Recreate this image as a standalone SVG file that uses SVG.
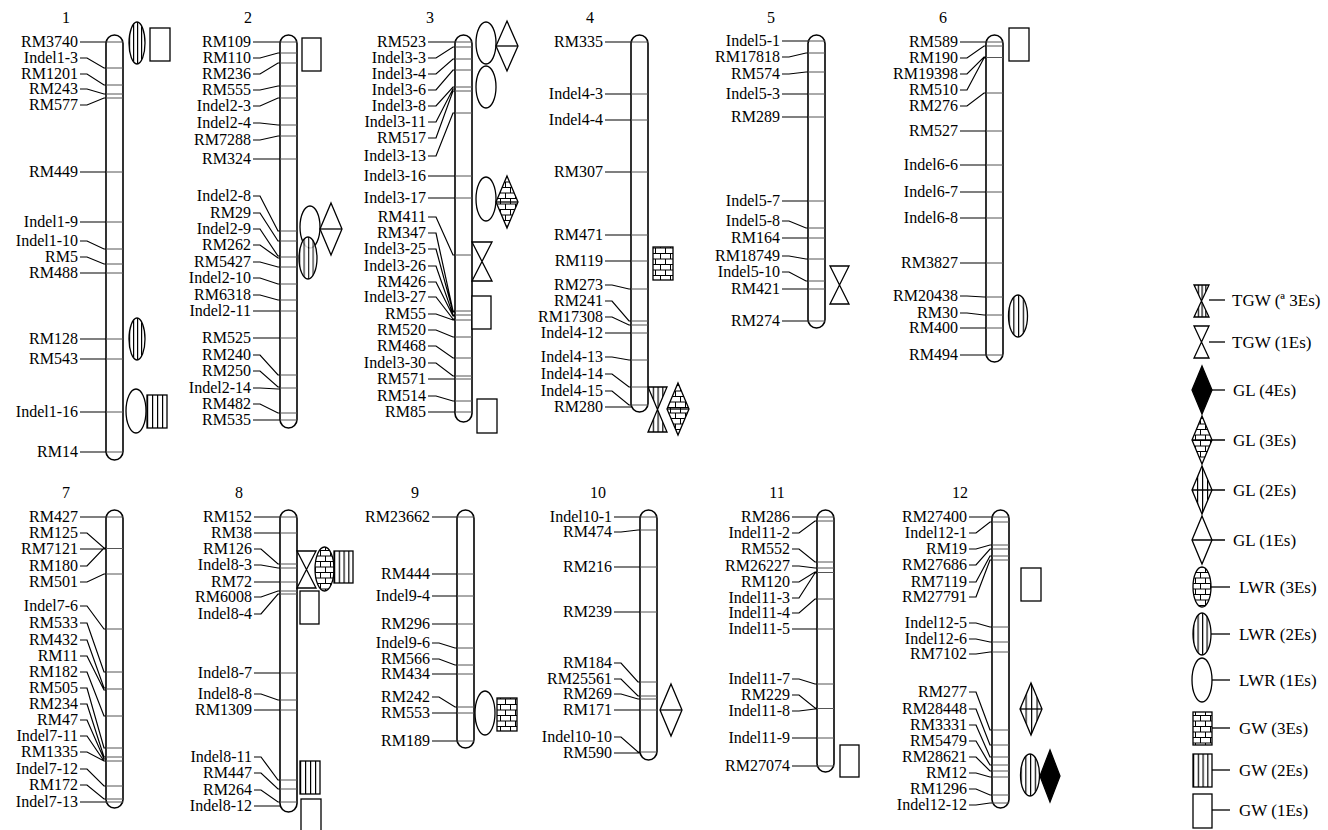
<svg xmlns="http://www.w3.org/2000/svg" width="1328" height="830" viewBox="0 0 1328 830">
<style>
.bg{fill:#fff}
.chrom{fill:#fff;stroke:#000;stroke-width:1.6}
.band{stroke:#555;stroke-width:1;fill:none}
.con{stroke:#000;stroke-width:1.2;fill:none}
.lbl text{font-family:"Liberation Serif",serif;font-size:16px;text-anchor:end;fill:#000}
.num{font-family:"Liberation Serif",serif;font-size:16px;text-anchor:middle;fill:#000}
.leg{font-family:"Liberation Serif",serif;font-size:17px;fill:#000}
.sym{fill:#fff;stroke:#000;stroke-width:1.3}
.vs{fill:url(#vs);stroke:#000;stroke-width:1.3}
.br{fill:url(#br);stroke:#000;stroke-width:1.3}
.blk{fill:#000;stroke:#000;stroke-width:1.3}
.ln{stroke:#000;stroke-width:1.3;fill:none}
</style>
<defs>
<pattern id="vs" patternUnits="objectBoundingBox" width=".25" height="1">
<rect width="100" height="100" fill="#fff"/>
<line x1=".6" y1="0" x2=".6" y2="100" stroke="#000" stroke-width="1.2"/>
</pattern>
<pattern id="br" patternUnits="userSpaceOnUse" width="10" height="11">
<rect width="10" height="11" fill="#fff"/>
<path d="M0 .5H10M0 6H10M.5 0V6M5.5 6V11" stroke="#000" stroke-width="1"/>
</pattern>
</defs>
<rect class="bg" width="1328" height="830"/>

<g id="connectors" class="con">
<path d="M80 42H106M80 58H87L104 68H106M80 74H87L104 85H106M80 89H87L104 94H106M80 105H87L104 98H106M80 172H106M80 222H106M80 241H87L104 249H106M80 257H87L104 264H106M80 273H106M80 339H106M80 359H106M80 412H106M80 452H106"/>
<path d="M253 42H280M253 58H260L278 53H280M253 74H260L278 63H280M253 90H260L278 86H280M253 106H260L278 98H280M253 123H260L278 125H280M253 140H260L278 136H280M253 159H280M253 196H260L278 231H280M253 213H260L278 241H280M253 229H260L278 256H280M253 245H260L278 258H280M253 262H260L278 267H280M253 278H260L278 284H280M253 295H260L278 300H280M253 311H280M253 338H280M253 355H260L278 375H280M253 371H260L278 387H280M253 388H260L278 389H280M253 404H260L278 413H280M253 420H280"/>
<path d="M428 42H455M428 58H436L453 47H455M428 74H436L453 59H455M428 90H436L453 70H455M428 106H436L453 87H455M428 122H436L453 89H455M428 138H436L453 91H455M428 156H436L453 113H455M428 176H455M428 198H455M428 217H436L453 255H455M428 233H436L453 311H455M428 249H436L453 312H455M428 266H436L453 315H455M428 282H436L453 316H455M428 297H436L453 319H455M428 314H436L453 320H455M428 330H436L453 337H455M428 346H436L453 358H455M428 363H436L453 376H455M428 379H455M428 396H436L453 401H455M428 412H455"/>
<path d="M605 42H631M605 94H631M605 120H631M605 172H631M605 235H631M605 261H631M605 285H612L629 289H631M605 301H612L629 321H631M605 317H612L629 325H631M605 333H631M605 357H612L629 360H631M605 374H612L629 387H631M605 391H612L629 405H631M605 407H631"/>
<path d="M782 41H808M782 57H789L806 53H808M782 74H789L806 72H808M782 94H808M782 117H808M782 201H808M782 221H789L806 228H808M782 238H808M782 256H789L806 259H808M782 272H789L806 281H808M782 289H808M782 321H808"/>
<path d="M960 42H986M960 58H967L984 46H986M960 74H967L984 57H986M960 90H967L984 58H986M960 106H967L984 93H986M960 131H986M960 165H986M960 192H986M960 218H986M960 263H986M960 296H967L984 297H986M960 313H967L984 315H986M960 328H986M960 355H986"/>
<path d="M80 517H106M80 533H87L104 548H106M80 549H106M80 566H87L104 548H106M80 582H87L104 574H106M80 606H87L104 629H106M80 623H87L104 672H106M80 640H87L104 688H106M80 656H87L104 690H106M80 672H87L104 716H106M80 688H87L104 748H106M80 704H87L104 757H106M80 720H87L104 759H106M80 736H87L104 761H106M80 752H87L104 761H106M80 769H87L104 786H106M80 785H87L104 799H106M80 802H106"/>
<path d="M254 517H280M254 533H280M254 549H261L278 564H280M254 565H261L278 568H280M254 582H280M254 597H261L278 591H280M254 614H261L278 594H280M254 673H280M254 694H261L278 700H280M254 710H280M254 757H261L278 780H280M254 773H261L278 789H280M254 790H261L278 802H280M254 806H280"/>
<path d="M432 517H457M432 574H457M432 596H457M432 624H457M432 643H439L455 648H457M432 659H439L455 665H457M432 674H457M432 697H439L455 707H457M432 713H457M432 741H457"/>
<path d="M614 517H640M614 532H621L638 530H640M614 567H640M614 612H640M614 663H621L638 682H640M614 679H621L638 696H640M614 694H621L638 699H640M614 710H640M614 737H621L638 752H640M614 753H640"/>
<path d="M792 517H817M792 533H799L815 521H817M792 549H799L815 562H817M792 566H799L815 568H817M792 582H799L815 572H817M792 598H799L815 573H817M792 613H799L815 599H817M792 629H817M792 679H799L815 684H817M792 695H799L815 708H817M792 711H799L815 709H817M792 738H817M792 766H817"/>
<path d="M969 517H992M969 533H976L990 522H992M969 549H976L990 545H992M969 565H976L990 549H992M969 582H976L990 556H992M969 597H976L990 560H992M969 623H976L990 627H992M969 639H976L990 642H992M969 654H976L990 652H992M969 692H976L990 730H992M969 709H976L990 745H992M969 725H976L990 757H992M969 741H976L990 765H992M969 757H976L990 771H992M969 773H976L990 777H992M969 789H976L990 795H992M969 805H976L990 803H992"/>
</g>

<g id="chr1">
<text class="num" x="66" y="23">1</text>
<rect class="chrom" x="106" y="35" width="17" height="425" rx="8.5"/>
<path class="band" d="M106 42h17M106 68h17M106 85h17M106 94h17M106 98h17M106 172h17M106 222h17M106 249h17M106 264h17M106 273h17M106 339h17M106 359h17M106 412h17M106 452h17"/>
<g class="lbl">
<text x="78" y="47">RM3740</text><text x="78" y="63">Indel1-3</text><text x="78" y="79">RM1201</text><text x="78" y="94">RM243</text><text x="78" y="110">RM577</text><text x="78" y="177">RM449</text><text x="78" y="227">Indel1-9</text><text x="78" y="246">Indel1-10</text><text x="78" y="262">RM5</text><text x="78" y="278">RM488</text><text x="78" y="344">RM128</text><text x="78" y="364">RM543</text><text x="78" y="417">Indel1-16</text><text x="78" y="457">RM14</text>
</g>
<ellipse class="vs" cx="137" cy="43" rx="8" ry="21"/>
<rect class="sym" x="150" y="28" width="20" height="33"/>
<ellipse class="vs" cx="137" cy="339" rx="8" ry="21"/>
<ellipse class="sym" cx="136" cy="411" rx="10" ry="22"/>
<rect class="vs" x="147" y="395" width="20" height="33"/>
</g>

<g id="chr2">
<text class="num" x="248" y="23">2</text>
<rect class="chrom" x="280" y="35" width="17" height="393" rx="8.5"/>
<path class="band" d="M280 42h17M280 53h17M280 63h17M280 86h17M280 98h17M280 125h17M280 136h17M280 159h17M280 231h17M280 241h17M280 257h17M280 267h17M280 284h17M280 300h17M280 311h17M280 338h17M280 375h17M280 388h17M280 413h17M280 420h17"/>
<g class="lbl">
<text x="251" y="47">RM109</text><text x="251" y="63">RM110</text><text x="251" y="79">RM236</text><text x="251" y="95">RM555</text><text x="251" y="111">Indel2-3</text><text x="251" y="128">Indel2-4</text><text x="251" y="145">RM7288</text><text x="251" y="164">RM324</text><text x="251" y="201">Indel2-8</text><text x="251" y="218">RM29</text><text x="251" y="234">Indel2-9</text><text x="251" y="250">RM262</text><text x="251" y="267">RM5427</text><text x="251" y="283">Indel2-10</text><text x="251" y="300">RM6318</text><text x="251" y="316">Indel2-11</text><text x="251" y="343">RM525</text><text x="251" y="360">RM240</text><text x="251" y="376">RM250</text><text x="251" y="393">Indel2-14</text><text x="251" y="409">RM482</text><text x="251" y="425">RM535</text>
</g>
<rect class="sym" x="302" y="38" width="19" height="33"/>
<ellipse class="sym" cx="310" cy="227" rx="10" ry="21"/>
<polygon class="sym" points="331,203 342,229 331,255 320,229"/>
<line class="ln" x1="320" y1="229" x2="342" y2="229"/>
<ellipse class="vs" cx="308" cy="258" rx="9" ry="21" style="fill-opacity:.85"/>
</g>

<g id="chr3">
<text class="num" x="430" y="23">3</text>
<rect class="chrom" x="455" y="35" width="17" height="387" rx="8.5"/>
<path class="band" d="M455 42h17M455 47h17M455 59h17M455 70h17M455 87h17M455 91h17M455 113h17M455 176h17M455 198h17M455 255h17M455 311h17M455 315h17M455 320h17M455 337h17M455 358h17M455 376h17M455 379h17M455 401h17M455 412h17"/>
<g class="lbl">
<text x="426" y="47">RM523</text><text x="426" y="63">Indel3-3</text><text x="426" y="79">Indel3-4</text><text x="426" y="95">Indel3-6</text><text x="426" y="111">Indel3-8</text><text x="426" y="127">Indel3-11</text><text x="426" y="143">RM517</text><text x="426" y="161">Indel3-13</text><text x="426" y="181">Indel3-16</text><text x="426" y="203">Indel3-17</text><text x="426" y="222">RM411</text><text x="426" y="238">RM347</text><text x="426" y="254">Indel3-25</text><text x="426" y="271">Indel3-26</text><text x="426" y="287">RM426</text><text x="426" y="302">Indel3-27</text><text x="426" y="319">RM55</text><text x="426" y="335">RM520</text><text x="426" y="351">RM468</text><text x="426" y="368">Indel3-30</text><text x="426" y="384">RM571</text><text x="426" y="401">RM514</text><text x="426" y="417">RM85</text>
</g>
<ellipse class="sym" cx="486" cy="43" rx="10" ry="21"/>
<polygon class="sym" points="507,21 518,46 507,71 496,46"/>
<line class="ln" x1="496" y1="46" x2="518" y2="46"/>
<ellipse class="sym" cx="486" cy="87" rx="10" ry="21"/>
<ellipse class="sym" cx="486" cy="199" rx="10" ry="22"/>
<polygon class="br" points="507,176 518,202 507,228 496,202"/>
<line class="ln" x1="496" y1="202" x2="518" y2="202"/>
<path class="sym" d="M472 242H492L472 281H492Z"/>
<rect class="sym" x="472" y="296" width="19" height="33"/>
<rect class="sym" x="477" y="399" width="20" height="34"/>
</g>

<g id="chr4">
<text class="num" x="590" y="23">4</text>
<rect class="chrom" x="631" y="35" width="17" height="377" rx="8.5"/>
<path class="band" d="M631 42h17M631 94h17M631 120h17M631 172h17M631 235h17M631 261h17M631 289h17M631 321h17M631 325h17M631 333h17M631 360h17M631 387h17M631 405h17"/>
<g class="lbl">
<text x="603" y="47">RM335</text><text x="603" y="99">Indel4-3</text><text x="603" y="125">Indel4-4</text><text x="603" y="177">RM307</text><text x="603" y="240">RM471</text><text x="603" y="266">RM119</text><text x="603" y="290">RM273</text><text x="603" y="306">RM241</text><text x="603" y="322">RM17308</text><text x="603" y="338">Indel4-12</text><text x="603" y="362">Indel4-13</text><text x="603" y="379">Indel4-14</text><text x="603" y="396">Indel4-15</text><text x="603" y="412">RM280</text>
</g>
<rect class="br" x="653" y="247" width="20" height="33"/>
<path class="vs" d="M648 387H667L648 432H667Z"/>
<polygon class="br" points="678,383 689,409 678,435 667,409"/>
<line class="ln" x1="667" y1="409" x2="689" y2="409"/>
</g>

<g id="chr5">
<text class="num" x="771" y="23">5</text>
<rect class="chrom" x="808" y="35" width="17" height="293" rx="8.5"/>
<path class="band" d="M808 41h17M808 53h17M808 72h17M808 94h17M808 117h17M808 201h17M808 228h17M808 238h17M808 259h17M808 281h17M808 289h17M808 321h17"/>
<g class="lbl">
<text x="780" y="46">Indel5-1</text><text x="780" y="62">RM17818</text><text x="780" y="79">RM574</text><text x="780" y="99">Indel5-3</text><text x="780" y="122">RM289</text><text x="780" y="206">Indel5-7</text><text x="780" y="226">Indel5-8</text><text x="780" y="243">RM164</text><text x="780" y="261">RM18749</text><text x="780" y="277">Indel5-10</text><text x="780" y="294">RM421</text><text x="780" y="326">RM274</text>
</g>
<path class="sym" d="M830 266H849L830 304H849Z"/>
</g>

<g id="chr6">
<text class="num" x="943" y="23">6</text>
<rect class="chrom" x="986" y="35" width="17" height="327" rx="8.5"/>
<path class="band" d="M986 42h17M986 46h17M986 57.5h17M986 93h17M986 131h17M986 165h17M986 192h17M986 218h17M986 263h17M986 297h17M986 315h17M986 328h17M986 355h17"/>
<g class="lbl">
<text x="958" y="47">RM589</text><text x="958" y="63">RM190</text><text x="958" y="79">RM19398</text><text x="958" y="95">RM510</text><text x="958" y="111">RM276</text><text x="958" y="136">RM527</text><text x="958" y="170">Indel6-6</text><text x="958" y="197">Indel6-7</text><text x="958" y="223">Indel6-8</text><text x="958" y="268">RM3827</text><text x="958" y="301">RM20438</text><text x="958" y="318">RM30</text><text x="958" y="333">RM400</text><text x="958" y="360">RM494</text>
</g>
<rect class="sym" x="1009" y="28" width="20" height="33"/>
<ellipse class="vs" cx="1018" cy="316" rx="9.5" ry="21"/>
</g>

<g id="chr7">
<text class="num" x="66" y="498">7</text>
<rect class="chrom" x="106" y="510" width="17" height="298" rx="8.5"/>
<path class="band" d="M106 517h17M106 548.5h17M106 574h17M106 629h17M106 672h17M106 689h17M106 716h17M106 748h17M106 757h17M106 761h17M106 786h17M106 799h17M106 802h17"/>
<g class="lbl">
<text x="78" y="522">RM427</text><text x="78" y="538">RM125</text><text x="78" y="554">RM7121</text><text x="78" y="571">RM180</text><text x="78" y="587">RM501</text><text x="78" y="611">Indel7-6</text><text x="78" y="628">RM533</text><text x="78" y="645">RM432</text><text x="78" y="661">RM11</text><text x="78" y="677">RM182</text><text x="78" y="693">RM505</text><text x="78" y="709">RM234</text><text x="78" y="725">RM47</text><text x="78" y="741">Indel7-11</text><text x="78" y="757">RM1335</text><text x="78" y="774">Indel7-12</text><text x="78" y="790">RM172</text><text x="78" y="807">Indel7-13</text>
</g>
</g>

<g id="chr8">
<text class="num" x="239" y="498">8</text>
<rect class="chrom" x="280" y="510" width="17" height="302" rx="8.5"/>
<path class="band" d="M280 517h17M280 533h17M280 564h17M280 568h17M280 582h17M280 591h17M280 594h17M280 673h17M280 700h17M280 710h17M280 780h17M280 789h17M280 802h17"/>
<g class="lbl">
<text x="252" y="522">RM152</text><text x="252" y="538">RM38</text><text x="252" y="554">RM126</text><text x="252" y="570">Indel8-3</text><text x="252" y="587">RM72</text><text x="252" y="602">RM6008</text><text x="252" y="619">Indel8-4</text><text x="252" y="678">Indel8-7</text><text x="252" y="699">Indel8-8</text><text x="252" y="715">RM1309</text><text x="252" y="762">Indel8-11</text><text x="252" y="778">RM447</text><text x="252" y="795">RM264</text><text x="252" y="811">Indel8-12</text>
</g>
<path class="sym" d="M297 551H316L297 588H316Z"/>
<ellipse class="br" cx="324.5" cy="569" rx="9.5" ry="22"/>
<rect class="vs" x="334" y="551" width="19" height="32"/>
<rect class="sym" x="300" y="591" width="19" height="33"/>
<rect class="vs" x="300" y="761" width="20" height="33"/>
<rect class="sym" x="301" y="799" width="20" height="36"/>
</g>

<g id="chr9">
<text class="num" x="415" y="498">9</text>
<rect class="chrom" x="457" y="510" width="17" height="238" rx="8.5"/>
<path class="band" d="M457 517h17M457 574h17M457 596h17M457 624h17M457 648h17M457 665h17M457 674h17M457 707h17M457 713h17M457 741h17"/>
<g class="lbl">
<text x="430" y="522">RM23662</text><text x="430" y="579">RM444</text><text x="430" y="601">Indel9-4</text><text x="430" y="629">RM296</text><text x="430" y="648">Indel9-6</text><text x="430" y="664">RM566</text><text x="430" y="679">RM434</text><text x="430" y="702">RM242</text><text x="430" y="718">RM553</text><text x="430" y="746">RM189</text>
</g>
<ellipse class="sym" cx="485" cy="713" rx="10" ry="22"/>
<rect class="br" x="497" y="698" width="20" height="33"/>
</g>

<g id="chr10">
<text class="num" x="598" y="498">10</text>
<rect class="chrom" x="640" y="510" width="17" height="250" rx="8.5"/>
<path class="band" d="M640 517h17M640 530h17M640 567h17M640 612h17M640 682h17M640 696h17M640 699h17M640 710h17M640 752h17"/>
<g class="lbl">
<text x="612" y="522">Indel10-1</text><text x="612" y="537">RM474</text><text x="612" y="572">RM216</text><text x="612" y="617">RM239</text><text x="612" y="668">RM184</text><text x="612" y="684">RM25561</text><text x="612" y="699">RM269</text><text x="612" y="715">RM171</text><text x="612" y="742">Indel10-10</text><text x="612" y="758">RM590</text>
</g>
<polygon class="sym" points="671,684 682,710 671,736 660,710"/>
<line class="ln" x1="660" y1="710" x2="682" y2="710"/>
</g>

<g id="chr11">
<text class="num" x="777" y="498">11</text>
<rect class="chrom" x="817" y="510" width="17" height="262" rx="8.5"/>
<path class="band" d="M817 517h17M817 521h17M817 562h17M817 568h17M817 572.5h17M817 599h17M817 629h17M817 684h17M817 708.5h17M817 738h17M817 766h17"/>
<g class="lbl">
<text x="790" y="522">RM286</text><text x="790" y="538">Indel11-2</text><text x="790" y="554">RM552</text><text x="790" y="571">RM26227</text><text x="790" y="587">RM120</text><text x="790" y="603">Indel11-3</text><text x="790" y="618">Indel11-4</text><text x="790" y="634">Indel11-5</text><text x="790" y="684">Indel11-7</text><text x="790" y="700">RM229</text><text x="790" y="716">Indel11-8</text><text x="790" y="743">Indel11-9</text><text x="790" y="771">RM27074</text>
</g>
<rect class="sym" x="840" y="745" width="19" height="32"/>
</g>

<g id="chr12">
<text class="num" x="960" y="498">12</text>
<rect class="chrom" x="992" y="510" width="17" height="298" rx="8.5"/>
<path class="band" d="M992 517h17M992 522h17M992 545h17M992 549h17M992 556h17M992 560h17M992 627h17M992 642h17M992 652h17M992 730h17M992 745h17M992 757h17M992 765h17M992 771h17M992 777h17M992 795h17M992 803h17"/>
<g class="lbl">
<text x="967" y="522">RM27400</text><text x="967" y="538">Indel12-1</text><text x="967" y="554">RM19</text><text x="967" y="570">RM27686</text><text x="967" y="587">RM7119</text><text x="967" y="602">RM27791</text><text x="967" y="628">Indel12-5</text><text x="967" y="644">Indel12-6</text><text x="967" y="659">RM7102</text><text x="967" y="697">RM277</text><text x="967" y="714">RM28448</text><text x="967" y="730">RM3331</text><text x="967" y="746">RM5479</text><text x="967" y="762">RM28621</text><text x="967" y="778">RM12</text><text x="967" y="794">RM1296</text><text x="967" y="810">Indel12-12</text>
</g>
<rect class="sym" x="1021" y="568" width="20" height="33"/>
<polygon class="vs" points="1031,683 1042,709 1031,735 1020,709"/>
<line class="ln" x1="1020" y1="709" x2="1042" y2="709"/>
<ellipse class="vs" cx="1030" cy="775" rx="9.5" ry="21"/>
<polygon class="blk" points="1050,750 1060,776 1050,802 1040,776"/>
</g>

<g id="legend">
<path class="vs" d="M1194 285H1209L1194 317H1209Z"/>
<line class="ln" x1="1209" y1="300" x2="1225" y2="300"/>
<text class="leg" x="1232" y="306">TGW (ª 3Es)</text>
<path class="sym" d="M1194 326H1209L1194 358H1209Z"/>
<line class="ln" x1="1209" y1="342" x2="1225" y2="342"/>
<text class="leg" x="1232" y="348">TGW (1Es)</text>
<polygon class="blk" points="1202,366 1212,390 1202,414 1192,390"/>
<line class="ln" x1="1212" y1="390" x2="1225" y2="390"/>
<text class="leg" x="1233" y="396">GL (4Es)</text>
<polygon class="br" points="1202,416 1212,440 1202,464 1192,440"/>
<line class="ln" x1="1192" y1="440" x2="1225" y2="440"/>
<text class="leg" x="1233" y="446">GL (3Es)</text>
<polygon class="vs" points="1202,466 1212,490 1202,514 1192,490"/>
<line class="ln" x1="1192" y1="490" x2="1225" y2="490"/>
<text class="leg" x="1233" y="496">GL (2Es)</text>
<polygon class="sym" points="1202,516 1212,540 1202,564 1192,540"/>
<line class="ln" x1="1192" y1="540" x2="1225" y2="540"/>
<text class="leg" x="1233" y="546">GL (1Es)</text>
<ellipse class="br" cx="1202" cy="587" rx="9" ry="20"/>
<line class="ln" x1="1211" y1="587" x2="1230" y2="587"/>
<text class="leg" x="1239" y="593">LWR (3Es)</text>
<ellipse class="vs" cx="1202" cy="634" rx="9" ry="21"/>
<line class="ln" x1="1211" y1="634" x2="1230" y2="634"/>
<text class="leg" x="1239" y="640">LWR (2Es)</text>
<ellipse class="sym" cx="1202" cy="680" rx="10" ry="22"/>
<line class="ln" x1="1212" y1="680" x2="1230" y2="680"/>
<text class="leg" x="1239" y="686">LWR (1Es)</text>
<rect class="br" x="1193" y="712" width="19" height="33"/>
<line class="ln" x1="1212" y1="728" x2="1230" y2="728"/>
<text class="leg" x="1239" y="734">GW (3Es)</text>
<rect class="vs" x="1193" y="754" width="19" height="33"/>
<line class="ln" x1="1212" y1="770" x2="1230" y2="770"/>
<text class="leg" x="1239" y="776">GW (2Es)</text>
<rect class="sym" x="1193" y="794" width="19" height="34"/>
<line class="ln" x1="1212" y1="810" x2="1230" y2="810"/>
<text class="leg" x="1239" y="816">GW (1Es)</text>
</g>
</svg>
